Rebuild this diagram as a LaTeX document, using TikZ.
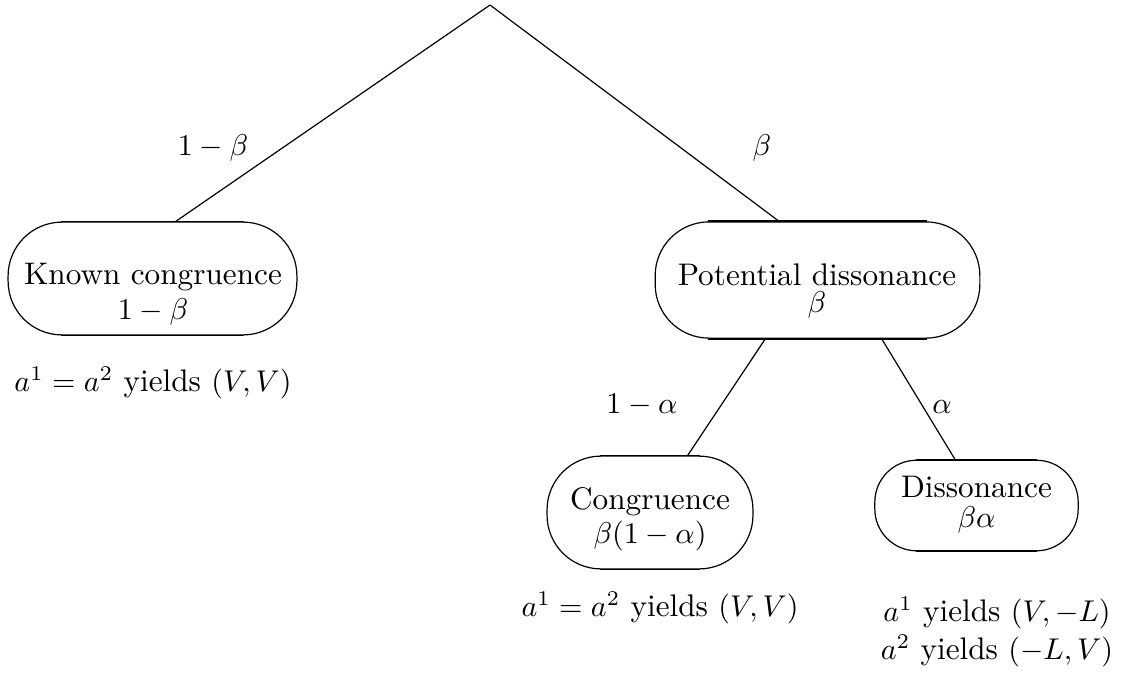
\documentclass[tikz,border=0pt]{standalone}
\usepackage{amsmath,amssymb}
\usetikzlibrary{calc}

\begin{document}
\begin{tikzpicture}[x=0.0117cm,y=-0.0117cm,
  every node/.style={font=\fontsize{10.4pt}{12.5pt}\selectfont},
  outcome/.style={draw,rounded corners=#1,inner sep=0pt},
  outcome/.default=0.63cm,
  flat/.style={line width=0.65pt},
  inside/.style={align=center,inner sep=0pt},
  payoff/.style={align=center,inner sep=1pt}]
  \useasboundingbox (0,0) rectangle (1140,674);
  \coordinate (root) at (490,5);
  % first chance move
  \node[outcome,minimum width=3.38cm,minimum height=1.32cm] (known) at (152.5,278.5) {};
  \node[inside] (knowntxt) at (153,294) {Known congruence\\[-1pt]$1-\beta$};
  \node[outcome,minimum width=3.80cm,minimum height=1.36cm] (potential) at (817.5,280) {};
  \node[inside] (potentialtxt) at (817,291) {Potential dissonance\\[-3.5pt]$\beta$};
  \draw (root) -- ([xshift=0.27cm]known.north);
  \draw (root) -- ([xshift=-0.45cm]potential.north);
  \node (lbeta) at (213,148) {$1-\beta$};
  \node (rbeta) at (762,148) {$\beta$};
  % second chance move
  \node[outcome,minimum width=2.41cm,minimum height=1.32cm] (cong) at (650,512.5) {};
  \node[inside] (congtxt) at (650,519) {Congruence\\[-1pt]$\beta(1-\alpha)$};
  \node[outcome=0.49cm,minimum width=2.38cm,minimum height=1.06cm] (diss) at (976.5,505.5) {};
  \node[inside] (disstxt) at (976.5,505) {Dissonance\\[-2.5pt]$\beta\alpha$};
  \draw ([xshift=-0.61cm]potential.south) -- ([xshift=0.44cm]cong.north);
  \draw ([xshift=0.75cm]potential.south) -- ([xshift=-0.25cm]diss.north);
  \node (lalpha) at (642,405) {$1-\alpha$};
  \node (ralpha) at (942,407) {$\alpha$};
  % straight parts of the boxes
  \foreach \n/\r in {known/0.63cm,potential/0.63cm,cong/0.63cm,diss/0.49cm}
    \draw[flat] ([xshift=\r]\n.north west) -- ([xshift=-\r]\n.north east)
                ([xshift=\r]\n.south west) -- ([xshift=-\r]\n.south east);
  % payoffs
  \node[payoff] (pknown) at (153,383) {$a^1=a^2$ yields $(V,V)$};
  \node[payoff] (pcong) at (660,608) {$a^1=a^2$ yields $(V,V)$};
  \node[payoff] (pdiss) at (997,632) {$a^1$ yields $(V,-L)$\\$a^2$ yields $(-L,V)$};
\end{tikzpicture}
\end{document}
